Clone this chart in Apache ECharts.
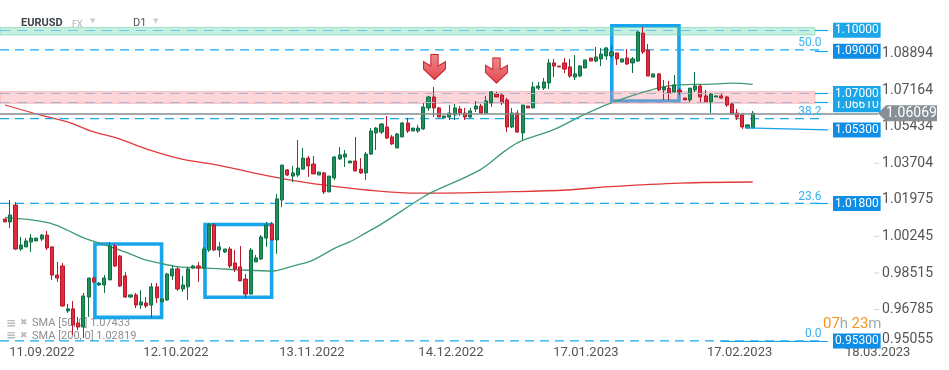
<!DOCTYPE html>
<html><head><meta charset="utf-8">
<script src="https://cdn.jsdelivr.net/npm/echarts@6/dist/echarts.min.js"></script>
<style>html,body{margin:0;padding:0;background:#fff}#c{width:949px;height:370px}</style>
</head><body><div id="c"></div>
<script>
// daily candles EURUSD: [open, close, low, high]
const candles = [
[1.0107,1.0093,1.0093,1.0107],[1.0093,1.0126,1.0065,1.0197],[1.0173,0.9965,0.9960,1.0187],[0.9965,0.9984,0.9956,1.0022],
[0.9975,1.0003,0.9975,1.0017],[0.9998,1.0017,0.9951,1.0036],[1.0003,1.0017,1.0003,1.0017],[1.0012,1.0031,1.0003,1.0036],
[1.0031,0.9970,0.9960,1.0050],[0.9975,0.9842,0.9819,0.9979],[0.9842,0.9828,0.9809,0.9904],[0.9885,0.9696,0.9691,0.9899],
[0.9672,0.9682,0.9663,0.9705],[0.9682,0.9606,0.9559,0.9719],[0.9615,0.9596,0.9582,0.9644],[0.9596,0.9743,0.9544,0.9757],
[0.9738,0.9828,0.9644,0.9828],[0.9828,0.9809,0.9804,0.9833],[0.9795,0.9804,0.9790,0.9809],[0.9795,0.9828,0.9757,0.9842],
[0.9819,0.9979,0.9819,0.9998],[0.9979,0.9885,0.9880,0.9989],[0.9932,0.9790,0.9786,0.9937],[0.9838,0.9738,0.9734,0.9856],
[0.9738,0.9748,0.9734,0.9748],[0.9748,0.9700,0.9686,0.9757],[0.9700,0.9715,0.9682,0.9771],[0.9710,0.9696,0.9686,0.9738],
[0.9700,0.9786,0.9639,0.9804],[0.9786,0.9734,0.9710,0.9804],[0.9715,0.9729,0.9715,0.9729],[0.9724,0.9847,0.9719,0.9852],
[0.9838,0.9871,0.9819,0.9885],[0.9871,0.9776,0.9767,0.9880],[0.9776,0.9795,0.9762,0.9838],[0.9786,0.9871,0.9724,0.9880],
[0.9875,0.9885,0.9871,0.9890],[0.9885,0.9875,0.9809,0.9904],[0.9875,0.9965,0.9871,0.9975],[0.9960,1.0079,0.9951,1.0088],
[1.0079,0.9960,0.9956,1.0088],[0.9960,0.9975,0.9927,0.9998],[0.9951,0.9965,0.9946,0.9965],[0.9965,0.9885,0.9875,0.9975],
[0.9899,0.9871,0.9856,0.9960],[0.9880,0.9814,0.9814,0.9979],[0.9823,0.9752,0.9734,0.9847],[0.9752,0.9960,0.9752,0.9970],
[0.9904,0.9923,0.9904,0.9937],[0.9918,1.0022,0.9913,1.0031],[1.0017,1.0079,0.9975,1.0093],[1.0083,1.0008,1.0008,1.0093],
[1.0008,1.0202,0.9942,1.0225],[1.0197,1.0362,1.0164,1.0362],[1.0339,1.0315,1.0310,1.0343],[1.0310,1.0325,1.0282,1.0358],
[1.0315,1.0348,1.0306,1.0481],[1.0343,1.0395,1.0339,1.0443],[1.0395,1.0358,1.0306,1.0405],[1.0367,1.0320,1.0320,1.0405],
[1.0315,1.0329,1.0315,1.0329],[1.0325,1.0235,1.0225,1.0329],[1.0235,1.0310,1.0235,1.0310],[1.0301,1.0400,1.0291,1.0405],
[1.0391,1.0410,1.0386,1.0447],[1.0400,1.0414,1.0353,1.0433],[1.0372,1.0381,1.0372,1.0381],[1.0381,1.0334,1.0334,1.0495],
[1.0343,1.0325,1.0320,1.0395],[1.0325,1.0414,1.0291,1.0424],[1.0414,1.0523,1.0410,1.0537],[1.0514,1.0537,1.0433,1.0542],
[1.0518,1.0556,1.0509,1.0561],[1.0542,1.0490,1.0485,1.0594],[1.0495,1.0462,1.0457,1.0504],[1.0443,1.0509,1.0443,1.0514],
[1.0495,1.0561,1.0495,1.0566],[1.0561,1.0523,1.0514,1.0585],[1.0523,1.0537,1.0523,1.0537],[1.0523,1.0537,1.0514,1.0552],
[1.0533,1.0637,1.0528,1.0656],[1.0632,1.0684,1.0618,1.0689],[1.0684,1.0632,1.0589,1.0731],[1.0632,1.0589,1.0589,1.0637],
[1.0585,1.0594,1.0585,1.0594],[1.0589,1.0608,1.0575,1.0646],[1.0599,1.0632,1.0575,1.0651],[1.0627,1.0608,1.0594,1.0641],
[1.0608,1.0589,1.0575,1.0632],[1.0589,1.0618,1.0585,1.0632],[1.0627,1.0641,1.0613,1.0665],[1.0641,1.0608,1.0604,1.0651],
[1.0608,1.0665,1.0608,1.0689],[1.0656,1.0708,1.0637,1.0712],[1.0698,1.0684,1.0684,1.0708],[1.0693,1.0656,1.0646,1.0703],
[1.0670,1.0542,1.0518,1.0679],[1.0542,1.0608,1.0537,1.0632],[1.0608,1.0518,1.0514,1.0622],[1.0514,1.0646,1.0481,1.0646],
[1.0641,1.0632,1.0632,1.0641],[1.0632,1.0731,1.0632,1.0755],[1.0726,1.0736,1.0717,1.0755],[1.0726,1.0755,1.0717,1.0774],
[1.0750,1.0845,1.0722,1.0864],[1.0845,1.0830,1.0778,1.0864],[1.0830,1.0826,1.0826,1.0830],[1.0845,1.0816,1.0797,1.0868],
[1.0826,1.0783,1.0774,1.0864],[1.0778,1.0793,1.0764,1.0882],[1.0783,1.0830,1.0778,1.0835],[1.0821,1.0859,1.0821,1.0859],
[1.0868,1.0854,1.0854,1.0868],[1.0854,1.0873,1.0849,1.0920],[1.0864,1.0887,1.0830,1.0916],[1.0878,1.0916,1.0859,1.0920],
[1.0878,1.0897,1.0868,1.0925],[1.0892,1.0864,1.0835,1.0892],[1.0849,1.0864,1.0849,1.0864],[1.0868,1.0840,1.0835,1.0911],
[1.0845,1.0864,1.0797,1.0873],[1.0854,1.0991,1.0849,1.0996],[1.0986,1.0897,1.0887,1.1015],[1.0906,1.0783,1.0783,1.0934],
[1.0778,1.0793,1.0778,1.0793],[1.0793,1.0717,1.0712,1.0797],[1.0717,1.0731,1.0670,1.0764],[1.0726,1.0703,1.0670,1.0760],
[1.0708,1.0741,1.0703,1.0788],[1.0717,1.0708,1.0693,1.0726],[1.0679,1.0670,1.0670,1.0679],[1.0670,1.0726,1.0656,1.0726],
[1.0717,1.0736,1.0708,1.0802],[1.0736,1.0684,1.0656,1.0741],[1.0689,1.0660,1.0656,1.0717],[1.0660,1.0698,1.0608,1.0703],
[1.0684,1.0689,1.0684,1.0689],[1.0689,1.0679,1.0674,1.0703],[1.0684,1.0646,1.0637,1.0689],[1.0651,1.0604,1.0604,1.0656],
[1.0608,1.0589,1.0575,1.0627],[1.0599,1.0542,1.0533,1.0608],[1.0537,1.0552,1.0537,1.0552],[1.0537,1.0607,1.0537,1.0618]
];
// moving averages: [candle index, value]
const sma50 = [[0,1.0113],[5.36,1.0102],[8.61,1.0087],[11.86,1.0055],[14.92,1.0019],[17.21,1.0000],[20.08,0.9976],[23.33,0.9948],
[26.39,0.9917],[29.64,0.9898],[32.9,0.9882],[35.96,0.9877],[40.55,0.9872],[44.94,0.9866],[51.26,0.9861],[53.55,0.9874],
[56.42,0.9893],[58.71,0.9910],[63.11,0.9969],[66.36,1.0004],[68.85,1.0039],[71.72,1.0079],[79.69,1.0206],[81.86,1.0236],
[90.85,1.0339],[95.63,1.0429],[98.49,1.0473],[104.8,1.0528],[109.97,1.0591],[115.71,1.0654],[124.64,1.0725],[129.09,1.0741],
[134.2,1.0744],[139.23,1.0749],[143,1.07433]];
const sma200 = [[0,1.0646],[6.69,1.0599],[11.8,1.0567],[16.83,1.0520],[21.42,1.0489],[27.73,1.0433],[34.04,1.0389],[40.74,1.0362],
[47.24,1.0326],[53.55,1.0296],[60.82,1.0268],[69.23,1.0244],[79.37,1.0229],[97.16,1.0236],[107.48,1.0244],[115.71,1.0260],
[129.1,1.0277],[143,1.02819]];
const yTicks = [1.08894,1.07164,1.05434,1.03704,1.01975,1.00245,0.98515,0.96785,0.95055];
const dateTickPos = [7.07,32.7,58.7,85.3,111.1,140.5,166.9];
const dateTickLabels = ['11.09.2022','12.10.2022','13.11.2022','14.12.2022','17.01.2023','17.02.2023','18.03.2023'];
const levels = [1.10,1.09,1.0661,1.07,1.053,1.018,0.953];
const levelLabels = ['1.10000','1.09000','1.06610','1.07000','1.05300','1.01800','0.95300'];
const levelColors = ['#1ca6ea','#0d8de6','#1ca6ea','#1ca6ea','#0d8de6','#0d8de6','#0d8de6'];
const fibLevels = [0.9531,1.0181,1.0582,1.0907];
const fibLabels = ['0.0','23.6','38.2','50.0'];
const lastPrice = 1.06069;
const greenZone = [1.0977,1.1013];
const pinkZone = [1.0654,1.0709];
const arrowMarks = [[82.14,1.0826],[94.0,1.0809]];
const boxMarks = [[[17.2,0.9989],[29.95,0.9642]],[[38.25,1.0081],[50.99,0.9737]],[[116.05,1.1021],[128.9,1.0665]]];
const legendTexts = ['SMA [50, 0] 1.07433','SMA [200, 0] 1.02819'];

const X0 = -0.956, X1 = 180.54;       // x extent in candle units
const XZONE = 154.9, XEND = 157.4, XFIB = 156.45, XPRICE = 166.97;

const chart = echarts.init(document.getElementById('c'), null, {renderer:'canvas'});
const FONT = 'Roboto, "Noto Sans", sans-serif';

const levelLines = levels.map((lv,i)=>{
  let start = [XZONE, lv], end = [XEND, lv];
  if (lv === 1.053) { start = [141.6, 1.0538]; end = [XEND, 1.0528]; }
  if (lv === 0.953) { start = [137, lv]; }
  return [{coord:start},
          {coord:end, label:{show:true, position:'end', distance:5, formatter:levelLabels[i],
             backgroundColor:levelColors[i], color:'#fff', padding:[2,2,1,2], fontSize:12, fontFamily:FONT,
             offset: lv===1.0661 ? [0,3] : [0,0]}}];
});
const greenDash = [[{coord:[X0, 1.10]}, {coord:[XZONE, 1.10]}]];
const pinkDash = [[{coord:[X0, 1.07]}, {coord:[XZONE, 1.07]}], [{coord:[X0, 1.0661]}, {coord:[XZONE, 1.0661]}]];

function holder(name, z, extra){ return Object.assign({type:'line', name, data:[], z, silent:true, symbol:'none'}, extra); }

const fibSeries = fibLevels.map((f,i)=>({
  type:'line', name:'fib'+fibLabels[i], z:2, silent:true, symbol:'none',
  lineStyle:{color:'#1aa9f0', type:[9,6], width:1.2},
  data:[[X0,f],[XFIB,f]]
}));
const fibTextMarks = fibLevels.map((f,i)=>({coord:[XFIB,f], symbol:'rect', symbolSize:[1,1],
  itemStyle:{color:'rgba(255,255,255,0)'},
  label:{show:true, position:'left', distance:1, offset:[0,-6.5], formatter:fibLabels[i], color:'#38b2ee', fontSize:12, fontFamily:FONT}}));

const option = {
  animation:false,
  textStyle:{fontFamily:FONT},
  grid:{left:0, right:0, top:0, bottom:23.7, containLabel:false, outerBoundsMode:'none'},
  xAxis:{type:'value', min:X0, max:X1, splitLine:{show:false}, axisLine:{show:false}, axisTick:{show:false},
    axisLabel:{customValues:dateTickPos, margin:0, color:'#555', fontSize:13, fontFamily:FONT,
      formatter:v=>{let b=0;for(let i=1;i<dateTickPos.length;i++){if(Math.abs(dateTickPos[i]-v)<Math.abs(dateTickPos[b]-v))b=i;}return dateTickLabels[b];}}},
  yAxis:{type:'value', position:'right', min:0.9505, max:1.11425, scale:true, splitLine:{show:false},
    axisLine:{show:false}, axisTick:{show:false},
    axisLabel:{inside:true, margin:16, customValues:yTicks, fontFamily:FONT,
      formatter:v=>'{t|}{v|'+v.toFixed(5)+'}'+(v<0.951?'\n{v| }':''),
      rich:{t:{width:5,height:1,backgroundColor:'#d2d2d2'}, v:{fontSize:14,color:'#555',padding:[0,0,0,3],lineHeight:13,fontFamily:FONT}}}},
  graphic:[
    {type:'text', left:21, top:18, style:{text:'EURUSD', font:'bold 11px Roboto', fill:'#3f4448'}},
    {type:'text', left:72, top:20, style:{text:'FX', font:'9px Roboto', fill:'#a9b0b5'}},
    {type:'text', left:90, top:18, style:{text:'▼', font:'7px "DejaVu Sans"', fill:'#c8cdd0'}},
    {type:'text', left:133, top:18, style:{text:'D1', font:'11px Roboto', fill:'#4f5458'}},
    {type:'text', left:153, top:18, style:{text:'▼', font:'7px "DejaVu Sans"', fill:'#c8cdd0'}},
    {type:'text', left:6, top:318, style:{text:'≡', font:'bold 12px "DejaVu Sans"', fill:'#b8bcc0'}},
    {type:'text', left:20, top:318, style:{text:'✖', font:'9px "DejaVu Sans"', fill:'#b8bcc0'}},
    {type:'text', left:32, top:318, style:{text:legendTexts[0], font:'11px Roboto', fill:'#8c8f92'}},
    {type:'text', left:6, top:330, style:{text:'≡', font:'bold 12px "DejaVu Sans"', fill:'#b8bcc0'}},
    {type:'text', left:20, top:331, style:{text:'✖', font:'9px "DejaVu Sans"', fill:'#b8bcc0'}},
    {type:'text', left:32, top:331, style:{text:legendTexts[1], font:'11px Roboto', fill:'#8c8f92'}},
    {type:'text', left:823, top:317, style:{text:'{o|07}{g|h} {o|23}{g|m}', rich:{o:{fontSize:15,fill:'#f7941d',fontFamily:FONT},g:{fontSize:15,fill:'#a4a8ab',fontFamily:FONT}}}}
  ],
  series:[
    {type:'line', name:'SMA200', data:sma200, smooth:0.35, symbol:'none', z:2, lineStyle:{color:'#e03a3c', width:1.3}},
    {type:'line', name:'SMA50', data:sma50, smooth:0.35, symbol:'none', z:2, lineStyle:{color:'#3f9c72', width:1.3}},
    ...fibSeries,
    holder('price', 2, {markLine:{silent:true, symbol:['none','none'], animation:false,
      lineStyle:{color:'#838d92', type:'solid', width:1.5}, label:{show:false},
      data:[[{coord:[X0,lastPrice]}, {coord:[XPRICE,lastPrice]}]]}}),
    {type:'candlestick', name:'EURUSD', data:candles.map((c,i)=>[i,c[0],c[1],c[2],c[3]]), encode:{x:0,y:[1,2,3,4]},
      barWidth:3.6, z:3,
      itemStyle:{color:'#1f915c', color0:'#e12b3f', borderColor:'#0f6e42', borderColor0:'#b7192b', borderWidth:1}},
    holder('boxes', 4, {markArea:{silent:true, data:boxMarks.map(b=>[{coord:b[0], itemStyle:{color:'rgba(0,0,0,0)', borderColor:'#17a6ee', borderWidth:3.6}},{coord:b[1]}])}}),
    holder('zones', 5, {markArea:{silent:true, data:[
        [{coord:[X0,greenZone[1]], itemStyle:{color:'rgba(80,210,160,0.33)', borderColor:'rgba(90,205,160,0.5)', borderWidth:1}},{coord:[XZONE,greenZone[0]]}],
        [{coord:[X0,pinkZone[1]], itemStyle:{color:'rgba(246,140,150,0.36)', borderColor:'rgba(240,120,130,0.45)', borderWidth:1}},{coord:[XZONE,pinkZone[0]]}]
      ]}}),
    holder('greenDash', 6, {markLine:{silent:true, symbol:['none','none'], animation:false, label:{show:false},
      lineStyle:{color:'#6cc7e2', type:[10,7], width:1.2}, data:greenDash}}),
    holder('pinkDash', 6, {markLine:{silent:true, symbol:['none','none'], animation:false, label:{show:false},
      lineStyle:{color:'#a7b5d2', type:[10,7], width:1.2}, data:pinkDash}}),
    holder('levels', 6, {
      markLine:{silent:true, symbol:['none','none'], animation:false,
        lineStyle:{color:'#17a2ec', type:'solid', width:1.2}, data:levelLines},
      markPoint:{silent:true, animation:false, data:[
        ...fibTextMarks,
        ...arrowMarks.map(a=>({coord:a, symbol:'path://M7,0 L14,0 L14,11 L21,7 L21,14 L10.5,24 L0,14 L0,7 L7,11 Z', symbolSize:[22,25],
          itemStyle:{color:{type:'linear',x:0,y:0,x2:0,y2:1,colorStops:[{offset:0,color:'#f08a8d'},{offset:1,color:'#e2474f'}]}, borderColor:'#c81e2c', borderWidth:1}, label:{show:false}})),
        {coord:[172.6,lastPrice], symbol:'path://M0,8 L8,0 L59,0 L59,16 L8,16 Z', symbolSize:[59,16], itemStyle:{color:'#879096'},
          label:{show:true, position:'inside', offset:[4,0], formatter:'1.06069', color:'#fff', fontSize:14, fontFamily:FONT}}
      ]}})
  ]
};
chart.setOption(option);
</script></body></html>
